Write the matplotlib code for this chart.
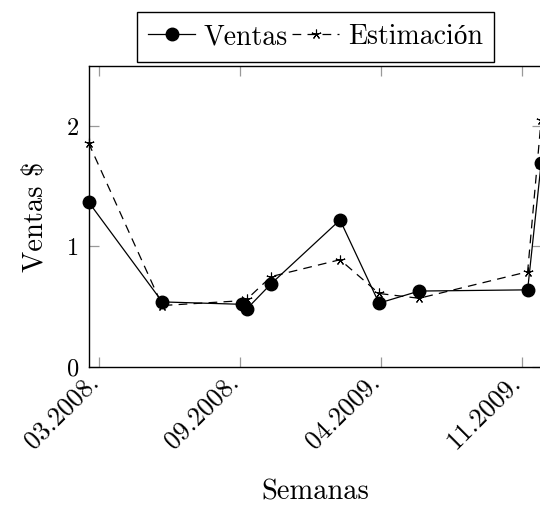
import matplotlib.pyplot as plt

plt.rcParams['font.family'] = ['cmr10', 'Liberation Serif']
plt.rcParams['mathtext.fontset'] = 'cm'
plt.rcParams['axes.unicode_minus'] = False

# x in "weeks" units, ticks every 10
semanas = [-0.78, 4.46, 10.11, 10.45, 12.19, 17.09, 19.86, 22.71, 30.42, 31.38]
ventas = [1.37, 0.54, 0.52, 0.48, 0.69, 1.22, 0.53, 0.63, 0.64, 1.69]
estimacion = [1.86, 0.51, 0.55, 0.56, 0.75, 0.89, 0.61, 0.57, 0.79, 2.05]
tick_pos = [0, 10, 20, 30]
tick_labels = ['03.2008.', '09.2008.', '04.2009.', '11.2009.']
y_ticks = [0, 1, 2]

fig = plt.figure(figsize=(5.4, 5.05), dpi=100)
ax = fig.add_axes([0.1639, 0.2733, 0.839, 0.5966])

l1, = ax.plot(semanas, ventas, color='black', lw=0.9, marker='o', markersize=9,
              clip_on=False, zorder=3)
l2, = ax.plot(semanas, estimacion, color='black', lw=0.9, ls='--', dashes=(7, 5),
              marker=(5, 2, 0), markersize=7, markeredgewidth=0.8, clip_on=False, zorder=3)

ax.set_xlim(-0.78, 31.41)
ax.set_ylim(0, 2.5)
ax.set_xticks(tick_pos)
ax.set_xticklabels(tick_labels, rotation=45, rotation_mode='anchor', ha='right',
                   va='baseline', fontsize=19)
ax.set_yticks(y_ticks)
ax.set_yticklabels([str(v) for v in y_ticks], fontsize=17.5)

ax.tick_params(axis='both', direction='in', length=7, width=0.9, color='0.6',
               top=True, right=True)
ax.tick_params(axis='x', pad=11.5)
ax.tick_params(axis='y', pad=7)
for sp in ax.spines.values():
    sp.set_linewidth(1.0)
    sp.set_color('black')

fig.text(42.7 / 540, 1 - 216.5 / 505, 'Ventas $', rotation=90, rotation_mode='anchor',
         ha='center', va='baseline', fontsize=20.5)
fig.text(315.4 / 540, 1 - 500 / 505, 'Semanas', ha='center', va='baseline', fontsize=20.5)

leg = fig.legend([l1, l2], ['Ventas', 'Estimación'], loc='center',
                 bbox_to_anchor=(315.5 / 540, 1 - 37 / 505), ncol=2, fontsize=20,
                 frameon=True, fancybox=False, framealpha=1, edgecolor='black',
                 handlelength=1.7, handletextpad=0.3, columnspacing=0.15, borderpad=0.42,
                 borderaxespad=0)
leg.get_frame().set_linewidth(1.0)

fig.savefig('out.png', dpi=100)
